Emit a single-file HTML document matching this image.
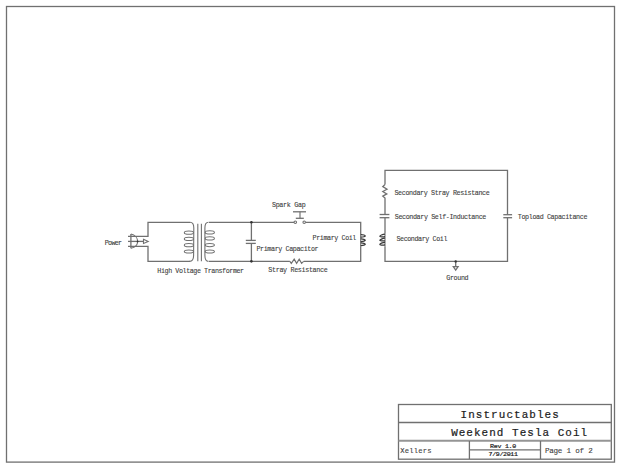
<!DOCTYPE html>
<html><head><meta charset="utf-8">
<style>
html,body{margin:0;padding:0;background:#fff;width:620px;height:468px;overflow:hidden}
svg{display:block}
text{font-family:"Liberation Mono",monospace}
</style></head><body>
<svg width="620" height="468" viewBox="0 0 620 468">
<g fill="none" stroke="#707070" stroke-width="1.3">
<!-- page border -->
<rect x="6.5" y="6.5" width="608" height="455.6"/>
<!-- title block -->
<rect x="398.5" y="404.5" width="212.8" height="54.7"/>
<line x1="398.5" y1="422.5" x2="611.3" y2="422.5"/>
<line x1="398.5" y1="440.8" x2="611.3" y2="440.8" stroke="#959595" stroke-width="1.9"/>
<line x1="469.4" y1="441" x2="469.4" y2="459"/>
<line x1="540.5" y1="441" x2="540.5" y2="459"/>
<line x1="469.4" y1="449.9" x2="540.5" y2="449.9"/>

<!-- primary circuit -->
<polyline points="128,236.3 148,236.3 148,222.3 190,222.3"/>
<polyline points="128,246.4 148,246.4 148,261.35 190,261.35"/>
<line x1="128" y1="241.4" x2="143.5" y2="241.4"/>
<!-- power connector -->
<line x1="130.9" y1="234" x2="130.9" y2="248.3"/>
<path d="M130.9,234 C135,234.8 137.6,238 137.6,241.4 C137.6,244.8 135,247.4 130.9,248.3" stroke-width="1.05"/>
<path d="M143.5,239.3 L148.2,241.4 L143.5,243.5 Z" stroke-width="1.1"/>
<!-- transformer coils -->
<path d="M190,222.3 Q193.8,222.3 193.8,228 L193.6,255.5 Q193.6,261.35 189.5,261.35" stroke-width="1.1"/>
<ellipse cx="188.9" cy="232.7" rx="4.6" ry="1.6" stroke-width="1.05"/>
<ellipse cx="188.9" cy="238.9" rx="4.6" ry="1.6" stroke-width="1.05"/>
<ellipse cx="188.9" cy="245.2" rx="4.6" ry="1.6" stroke-width="1.05"/>
<ellipse cx="188.9" cy="251.5" rx="4.6" ry="1.6" stroke-width="1.05"/>
<line x1="197.8" y1="223.8" x2="197.8" y2="261.3" stroke-width="1.1"/>
<line x1="201.4" y1="223.8" x2="201.4" y2="261.3" stroke-width="1.1"/>
<path d="M208.5,222.3 Q204.9,222.3 204.9,228 L204.9,255.5 Q204.9,261.35 208.5,261.35" stroke-width="1.1"/>
<ellipse cx="209.8" cy="232.4" rx="4.6" ry="1.6" stroke-width="1.05"/>
<ellipse cx="209.8" cy="238.4" rx="4.6" ry="1.6" stroke-width="1.05"/>
<ellipse cx="209.8" cy="245.1" rx="4.6" ry="1.6" stroke-width="1.05"/>
<ellipse cx="209.8" cy="251.5" rx="4.6" ry="1.6" stroke-width="1.05"/>
<polyline points="209,222.3 294,222.3"/>
<polyline points="305.5,222.3 360.7,222.3 360.7,234"/>
<polyline points="360.7,247 360.7,261.35 303.6,261.35"/>
<polyline points="209,261.35 289.9,261.35"/>
<!-- primary capacitor -->
<line x1="251.4" y1="222.3" x2="251.4" y2="240.4"/>
<line x1="251.4" y1="243.4" x2="251.4" y2="261.35"/>
<line x1="245.8" y1="240.4" x2="255.8" y2="240.4"/>
<line x1="245.8" y1="243.4" x2="255.8" y2="243.4"/>
<!-- spark gap -->
<circle cx="295.3" cy="222.2" r="1.25" fill="#fff" stroke-width="1.1"/>
<circle cx="304.2" cy="222.2" r="1.25" fill="#fff" stroke-width="1.1"/>
<line x1="293" y1="211.8" x2="306" y2="211.8"/>
<line x1="300" y1="211.8" x2="300" y2="218.3" stroke-width="1.15"/>
<line x1="295.8" y1="218.3" x2="303.8" y2="218.3"/>
<!-- primary coil -->
<line x1="360.7" y1="234" x2="360.7" y2="247" stroke-width="1.1"/><path d="M360.7,234.60 C363.3,234.50 365.3,235.40 365.3,235.90 C365.3,236.40 363.3,237.30 360.7,237.20" stroke="#3a3a3a" stroke-width="1.25"/><path d="M360.7,238.90 C363.3,238.80 365.3,239.70 365.3,240.20 C365.3,240.70 363.3,241.60 360.7,241.50" stroke="#3a3a3a" stroke-width="1.25"/><path d="M360.7,243.00 C363.3,242.90 365.3,243.80 365.3,244.30 C365.3,244.80 363.3,245.70 360.7,245.60" stroke="#3a3a3a" stroke-width="1.25"/>
<!-- stray resistance -->
<polyline points="289.9,261.4 291.3,263.4 294.2,259.2 296.6,263.4 299.2,259.2 301.6,263.4 303.6,261.4" stroke-width="1.15"/>

<!-- secondary circuit -->
<polyline points="385,184.5 385,170.35 507.5,170.35 507.5,214.7"/>
<polyline points="507.5,217.7 507.5,261.4 385,261.4 385,247"/>
<polyline points="385,184.5 382.8,186.6 387,189.2 382.8,191.5 386.8,193.9 382.8,196.2 385,198 385,214.5"/>
<line x1="379.6" y1="214.5" x2="389.4" y2="214.5"/>
<line x1="379.6" y1="217.7" x2="389.4" y2="217.7"/>
<line x1="385" y1="217.7" x2="385" y2="233"/>
<line x1="385" y1="233" x2="385" y2="247" stroke-width="1.1"/><path d="M385,234.10 C382.4,234.20 379.8,235.60 379.8,236.20 C379.8,236.80 382.4,237.10 385,236.70" stroke="#3a3a3a" stroke-width="1.25"/><path d="M385,238.20 C382.4,238.30 379.8,239.70 379.8,240.30 C379.8,240.90 382.4,241.20 385,240.80" stroke="#3a3a3a" stroke-width="1.25"/><path d="M385,242.30 C382.4,242.40 379.8,243.80 379.8,244.40 C379.8,245.00 382.4,245.30 385,244.90" stroke="#3a3a3a" stroke-width="1.25"/>
<line x1="503.3" y1="214.7" x2="512.1" y2="214.7"/>
<line x1="503.3" y1="217.7" x2="512.1" y2="217.7"/>
<!-- ground -->
<line x1="455.7" y1="261.4" x2="455.7" y2="266.6"/>
<path d="M453.3,266.6 L458.1,266.6 L455.7,270.2 Z"/>
</g>
<g fill="#333">
<circle cx="251.4" cy="222.3" r="1.3"/>
<circle cx="251.4" cy="261.35" r="1.3"/>
<circle cx="455.7" cy="261.4" r="1.2"/>
<circle cx="137.6" cy="241.4" r="0.9"/>
</g>

<text x="104.83" y="244.60" font-size="6.4" textLength="16.32" lengthAdjust="spacing" stroke="#404040" stroke-width="0.1" fill="#404040" transform="matrix(1.0500 0 0 1 -5.241 0)">Power</text>
<text x="271.91" y="206.90" font-size="6.4" textLength="32.19" lengthAdjust="spacing" stroke="#404040" stroke-width="0.1" fill="#404040" transform="matrix(1.0500 0 0 1 -13.596 0)">Spark Gap</text>
<text x="157.36" y="273.30" font-size="6.4" textLength="82.65" lengthAdjust="spacing" stroke="#404040" stroke-width="0.1" fill="#404040" transform="matrix(1.0500 0 0 1 -7.868 0)">High Voltage Transformer</text>
<text x="256.47" y="250.80" font-size="6.4" textLength="59.21" lengthAdjust="spacing" stroke="#404040" stroke-width="0.1" fill="#404040" transform="matrix(1.0500 0 0 1 -12.823 0)">Primary Capacitor</text>
<text x="312.60" y="240.10" font-size="6.4" textLength="41.73" lengthAdjust="spacing" stroke="#404040" stroke-width="0.1" fill="#404040" transform="matrix(1.0500 0 0 1 -15.630 0)">Primary Coil</text>
<text x="268.37" y="271.90" font-size="6.4" textLength="56.51" lengthAdjust="spacing" stroke="#404040" stroke-width="0.1" fill="#404040" transform="matrix(1.0500 0 0 1 -13.418 0)">Stray Resistance</text>
<text x="394.47" y="194.60" font-size="6.4" textLength="90.78" lengthAdjust="spacing" stroke="#404040" stroke-width="0.1" fill="#404040" transform="matrix(1.0500 0 0 1 -19.723 0)">Secondary Stray Resistance</text>
<text x="394.74" y="218.90" font-size="6.4" textLength="87.23" lengthAdjust="spacing" stroke="#404040" stroke-width="0.1" fill="#404040" transform="matrix(1.0500 0 0 1 -19.737 0)">Secondary Self-Inductance</text>
<text x="396.43" y="240.90" font-size="6.4" textLength="48.58" lengthAdjust="spacing" stroke="#404040" stroke-width="0.1" fill="#404040" transform="matrix(1.0500 0 0 1 -19.822 0)">Secondary Coil</text>
<text x="517.81" y="218.90" font-size="6.4" textLength="66.30" lengthAdjust="spacing" stroke="#404040" stroke-width="0.1" fill="#404040" transform="matrix(1.0500 0 0 1 -25.890 0)">Topload Capacitance</text>
<text x="446.29" y="279.80" font-size="6.4" textLength="21.22" lengthAdjust="spacing" stroke="#404040" stroke-width="0.1" fill="#404040" transform="matrix(1.0500 0 0 1 -22.314 0)">Ground</text>
<text x="460.51" y="417.80" font-size="11.5" textLength="103.51" lengthAdjust="spacing" stroke="#1c1c1c" stroke-width="0.22" fill="#1c1c1c" transform="matrix(0.9500 0 0 1 23.025 0)">Instructables</text>
<text x="451.14" y="435.80" font-size="11.5" textLength="143.18" lengthAdjust="spacing" stroke="#1c1c1c" stroke-width="0.22" fill="#1c1c1c" transform="matrix(0.9500 0 0 1 22.557 0)">Weekend Tesla Coil</text>
<text x="400.19" y="453.30" font-size="7.2" textLength="31.29" lengthAdjust="spacing" stroke="#404040" stroke-width="0.1" fill="#404040">Xellers</text>
<text x="544.88" y="453.40" font-size="7.6" textLength="47.85" lengthAdjust="spacing" stroke="#404040" stroke-width="0.1" fill="#404040">Page 1 of 2</text>
<text x="490.03" y="447.70" font-size="6.0" textLength="23.87" lengthAdjust="spacing" stroke="#222222" stroke-width="0.2" fill="#222222" transform="matrix(1.1000 0 0 1 -49.003 0)">Rev 1.0</text>
<text x="488.53" y="456.50" font-size="6.0" textLength="26.70" lengthAdjust="spacing" stroke="#222222" stroke-width="0.2" fill="#222222" transform="matrix(1.1000 0 0 1 -48.853 0)">7/9/2011</text>
</svg>
</body></html>
